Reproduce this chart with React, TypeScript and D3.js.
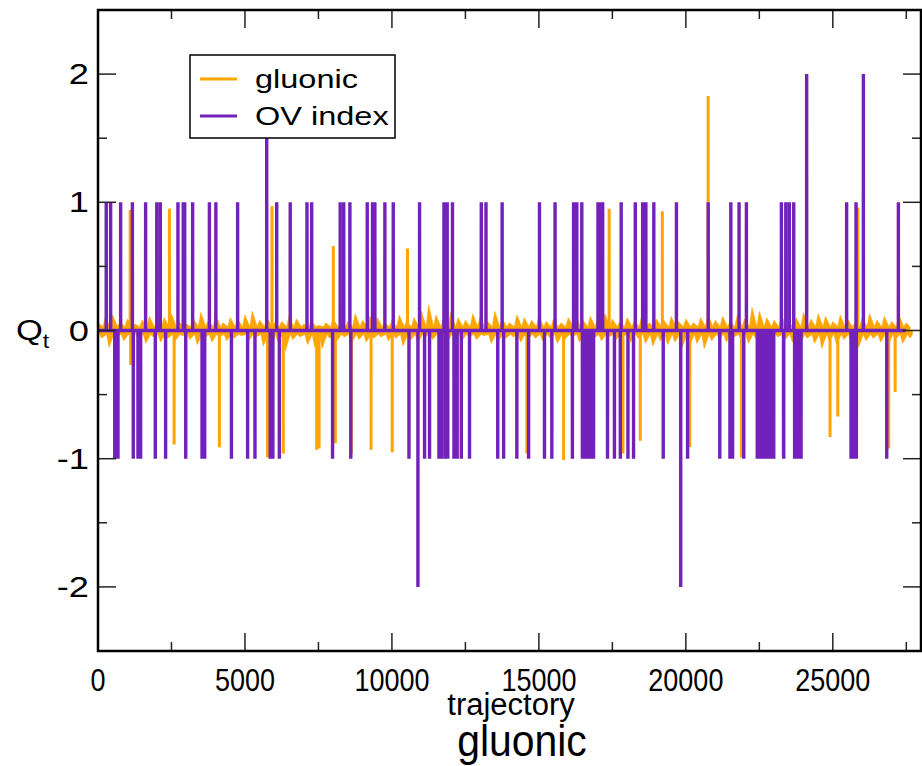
import React from "react";
import * as d3 from "d3";

// ---------- data ----------
const xMajorTicks = [0, 5000, 10000, 15000, 20000, 25000];
const xMinorTicks = [2500, 7500, 12500, 17500, 22500, 27500];
const yMajorTicks = [-2, -1, 0, 1, 2];
const yMinorTicks = [-1.5, -0.5, 0.5, 1.5];
const seriesNames = ["gluonic", "OV index"];

// gluonic fluctuation around zero: upper peaks at t = i*250, lower troughs at t = i*250 + 125
const noiseStep = 250;
const gluonicUpper = [
  0.06, 0.10, 0.12, 0.07, 0.09, 0.05, 0.08, 0.11, 0.06, 0.10, 0.13, 0.07, 0.05, 0.09, 0.14, 0.08, 0.12, 0.06, 0.10, 0.09,
  0.12, 0.15, 0.08, 0.10, 0.06, 0.07, 0.11, 0.09, 0.05, 0.08, 0.04, 0.06, 0.09, 0.05, 0.07, 0.13, 0.08, 0.11, 0.10, 0.06,
  0.08, 0.12, 0.07, 0.10, 0.15, 0.20, 0.12, 0.09, 0.14, 0.10, 0.08, 0.13, 0.11, 0.07, 0.15, 0.09, 0.06, 0.12, 0.10, 0.08,
  0.11, 0.07, 0.09, 0.06, 0.10, 0.12, 0.08, 0.11, 0.10, 0.13, 0.09, 0.07, 0.10, 0.08, 0.12, 0.06, 0.09, 0.08, 0.11, 0.07,
  0.09, 0.06, 0.10, 0.13, 0.08, 0.11, 0.07, 0.12, 0.09, 0.18, 0.15, 0.10, 0.08, 0.12, 0.06, 0.10, 0.14, 0.09, 0.13, 0.11,
  0.07, 0.12, 0.09, 0.06, 0.10, 0.13, 0.08, 0.11, 0.07, 0.12, 0.06,
];
const gluonicLower = [
  -0.06, -0.13, -0.05, -0.08, -0.04, -0.07, -0.10, -0.05, -0.09, -0.06, -0.08, -0.04, -0.07, -0.11, -0.06, -0.09, -0.05, -0.08, -0.06, -0.04,
  -0.08, -0.05, -0.12, -0.15, -0.09, -0.16, -0.07, -0.05, -0.11, -0.13, -0.14, -0.06, -0.08, -0.05, -0.10, -0.07, -0.09, -0.06, -0.05, -0.08,
  -0.06, -0.12, -0.08, -0.10, -0.05, -0.07, -0.04, -0.09, -0.06, -0.08, -0.05, -0.07, -0.04, -0.10, -0.08, -0.06, -0.05, -0.09, -0.07, -0.06,
  -0.08, -0.06, -0.10, -0.07, -0.05, -0.09, -0.12, -0.06, -0.08, -0.05, -0.07, -0.04, -0.09, -0.06, -0.10, -0.12, -0.08, -0.11, -0.09, -0.13,
  -0.12, -0.10, -0.14, -0.08, -0.06, -0.09, -0.05, -0.07, -0.10, -0.06, -0.04, -0.08, -0.05, -0.07, -0.09, -0.12, -0.06, -0.10, -0.14, -0.08,
  -0.11, -0.07, -0.10, -0.13, -0.08, -0.06, -0.09, -0.12, -0.07, -0.10, -0.06,
];
// typical half-width of the dense band the fluctuations fill in around zero
const gluonicCore = [0.03, -0.03];

// large gluonic excursions: trajectory, value
const gluonicSpikeT = [
  1095, 1110, 2430, 2590, 4130, 5770, 5920, 6305, 7440, 7520, 8005, 8075, 8620, 9290,
  10010, 10530, 14590, 15840, 17390, 17860, 18450, 19200, 20135, 20760, 21890, 23310,
  24905, 25170, 25850, 26900, 27120,
];
const gluonicSpikeQ = [
  0.94, -0.27, 0.95, -0.89, -0.91, -0.99, 0.97, -0.96, -0.93, -0.92, 0.66, -0.88, -0.96, -0.93,
  -0.95, 0.64, -0.96, -1.01, 0.95, -0.96, -0.86, 0.93, -0.91, 1.83, -0.99, -0.98,
  -0.83, -0.67, 0.96, -0.92, -0.48,
];

// OV index jumps: trajectory, integer value
const ovSpikeT = [
  280, 430, 570, 680, 770, 1170, 1200, 1360, 1450, 1620, 1950, 2000, 2120, 2300, 2720, 2900, 2950, 2985,
  3220, 3540, 3630, 3790, 4010, 4540, 4750, 5090, 5340, 5740, 5860, 5950, 6080, 6170, 6540, 7110, 7270,
  7980, 8240, 8360, 8570, 8600, 9160, 9340, 9420, 9760, 10045, 10580, 10885, 10940, 11110, 11280, 11600,
  11680, 11770, 11800, 11840, 11880, 11900, 12060, 12110, 12220, 12360, 12640, 13040, 13200, 13600, 13750,
  13800, 14250, 14650, 15020, 15190, 15440, 15550, 16140, 16180, 16290, 16460, 16480, 16560, 16640, 16720,
  16800, 16860, 17010, 17100, 17170, 17335, 17570, 17770, 17800, 18030, 18220, 18280, 18530, 18640, 18910,
  19230, 19680, 19825, 20060, 20760, 21155, 21500, 21530, 21590, 21810, 21970, 22060, 22430, 22500, 22570,
  22640, 22710, 22780, 22850, 22920, 22990, 23250, 23330, 23400, 23520, 23670, 23700, 23780, 23860, 23920,
  24110, 25470, 25620, 25700, 25790, 25800, 26040, 26835, 27230,
];
const ovSpikeQ = [
  1, 1, -1, -1, 1, 1, -1, -1, -1, 1, -1, 1, 1, -1, 1, 1, 1, -1,
  1, -1, -1, 1, 1, -1, 1, -1, -1, 2, -1, -1, 1, -1, 1, 1, 1,
  -1, 1, 1, 1, -1, 1, 1, 1, 1, 1, -1, -2, 1, -1, -1, -1,
  -1, 1, -1, -1, 1, -1, 1, -1, -1, -1, -1, 1, 1, -1, 1,
  -1, -1, -1, 1, -1, -1, 1, -1, 1, 1, 1, -1, -1, -1, -1,
  -1, -1, 1, 1, 1, -1, -1, -1, 1, -1, -1, 1, 1, 1, 1,
  -1, 1, -2, -1, 1, -1, -1, 1, -1, 1, -1, 1, -1, -1, -1,
  -1, -1, -1, -1, -1, -1, 1, -1, 1, 1, 1, -1, -1, -1, -1,
  2, 1, -1, -1, 1, -1, 2, -1, 1,
];
const ovEnd = 27480;

// ---------- layout ----------
const W = 922;
const H = 766;
const L = 98;
const R = 921;
const T = 10;
const B = 651;

const ORANGE = "#ffa500";
const PURPLE = "#7222bb";
const FONT = "'Liberation Sans', Arial, Helvetica, sans-serif";

export default function App() {
  const x = d3.scaleLinear().domain([0, 28000]).range([L, R]);
  const y = d3.scaleLinear().domain([-2.5, 2.5]).range([B, T]);

  const line = d3
    .line<[number, number]>()
    .x((d) => x(d[0]))
    .y((d) => y(d[1]));

  const area = d3
    .area<[number, number]>()
    .x((d) => x(d[0]))
    .y0(y(0))
    .y1((d) => y(d[1]));

  // upper side of the fluctuating band: peaks at i*250, back to the core between them
  const upperPts: [number, number][] = [];
  gluonicUpper.forEach((u, i) => {
    upperPts.push([i * noiseStep - noiseStep / 2 + 40, gluonicCore[0]], [i * noiseStep, u]);
  });
  upperPts.push([gluonicUpper.length * noiseStep - noiseStep / 2, gluonicCore[0]]);
  // lower side: troughs at i*250 + 125
  const lowerPts: [number, number][] = [[0, gluonicCore[1]]];
  gluonicLower.forEach((l, i) => {
    lowerPts.push([i * noiseStep + 40, gluonicCore[1]], [i * noiseStep + noiseStep / 2, l]);
  });
  lowerPts.push([gluonicLower.length * noiseStep - 40, gluonicCore[1]]);

  // large excursions of the gluonic series
  const spikePts: [number, number][] = [[0, 0]];
  gluonicSpikeT.forEach((t, i) => {
    spikePts.push([t - 1, 0], [t, gluonicSpikeQ[i]], [t + 1, 0]);
  });

  const ovPts: [number, number][] = [[0, 0]];
  ovSpikeT.forEach((t, i) => {
    ovPts.push([t - 1, 0], [t, ovSpikeQ[i]], [t + 1, 0]);
  });
  ovPts.push([ovEnd, 0]);

  const tickColor = "#222";

  return (
    <svg
      width={W}
      height={H}
      style={{ position: "absolute", left: 0, top: 0, background: "#fff" }}
      fontFamily={FONT}
    >
      <defs>
        <clipPath id="plotClip">
          <rect x={L} y={T} width={R - L} height={B - T} />
        </clipPath>
      </defs>

      <g clipPath="url(#plotClip)">
        <path d={area(upperPts) || ""} fill={ORANGE} stroke={ORANGE} strokeWidth={0.6} />
        <path d={area(lowerPts) || ""} fill={ORANGE} stroke={ORANGE} strokeWidth={0.6} />
        <path d={line(spikePts) || ""} fill="none" stroke={ORANGE} strokeWidth={3} strokeLinejoin="bevel" />
        <path d={line(ovPts) || ""} fill="none" stroke={PURPLE} strokeWidth={3.4} strokeLinejoin="bevel" />
      </g>

      {/* ticks */}
      {xMajorTicks.map((t) => (
        <g key={"xM" + t}>
          <line x1={x(t)} x2={x(t)} y1={B} y2={B - 18} stroke={tickColor} strokeWidth={1.5} />
          <line x1={x(t)} x2={x(t)} y1={T} y2={T + 18} stroke={tickColor} strokeWidth={1.5} />
        </g>
      ))}
      {xMinorTicks.map((t) => (
        <g key={"xm" + t}>
          <line x1={x(t)} x2={x(t)} y1={B} y2={B - 9} stroke={tickColor} strokeWidth={1.5} />
          <line x1={x(t)} x2={x(t)} y1={T} y2={T + 9} stroke={tickColor} strokeWidth={1.5} />
        </g>
      ))}
      {yMajorTicks.map((v) => (
        <g key={"yM" + v}>
          <line x1={L} x2={L + 18} y1={y(v)} y2={y(v)} stroke={tickColor} strokeWidth={1.5} />
          <line x1={R} x2={R - 18} y1={y(v)} y2={y(v)} stroke={tickColor} strokeWidth={1.5} />
        </g>
      ))}
      {yMinorTicks.map((v) => (
        <g key={"ym" + v}>
          <line x1={L} x2={L + 9} y1={y(v)} y2={y(v)} stroke={tickColor} strokeWidth={1.5} />
          <line x1={R} x2={R - 9} y1={y(v)} y2={y(v)} stroke={tickColor} strokeWidth={1.5} />
        </g>
      ))}

      {/* frame */}
      <rect x={L} y={T} width={R - L} height={B - T} fill="none" stroke="#000" strokeWidth={2.5} />

      {/* tick labels */}
      {xMajorTicks.map((t) => (
        <text
          key={"xl" + t}
          transform={`translate(${x(t)},${B + 40}) scale(1,1.15)`}
          textAnchor="middle"
          fontSize={27}
          fill="#000"
        >
          {t}
        </text>
      ))}
      {yMajorTicks.map((v) => (
        <text
          key={"yl" + v}
          transform={`translate(${L - 9},${y(v) + 10}) scale(1.25,1)`}
          textAnchor="end"
          fontSize={29}
          fill="#000"
        >
          {v}
        </text>
      ))}

      {/* axis labels */}
      <text transform={`translate(511,715)`} textAnchor="middle" fontSize={31} fill="#000">
        trajectory
      </text>
      <text transform={`translate(522,756) scale(0.93,1)`} textAnchor="middle" fontSize={44} fill="#000">
        gluonic
      </text>
      <text transform={`translate(16,340) scale(1.15,1)`} fontSize={30} fill="#000">
        Q<tspan fontSize={20} dy={8}>t</tspan>
      </text>

      {/* legend */}
      <rect x={190} y={55} width={205} height={83} fill="#fff" stroke="#000" strokeWidth={1.5} />
      <line x1={200} x2={237} y1={79} y2={79} stroke={ORANGE} strokeWidth={3} />
      <line x1={200} x2={237} y1={116} y2={116} stroke={PURPLE} strokeWidth={3} />
      <text transform={`translate(255,88) scale(1.3,1)`} fontSize={25} fill="#000">
        {seriesNames[0]}
      </text>
      <text transform={`translate(255,125) scale(1.3,1)`} fontSize={25} fill="#000">
        {seriesNames[1]}
      </text>
    </svg>
  );
}
